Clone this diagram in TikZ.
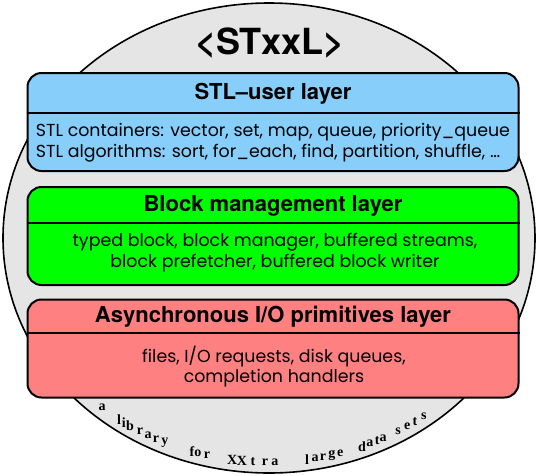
\documentclass[tikz,border=0pt]{standalone}
\usepackage{fontspec}
\setmainfont{TeX Gyre Heros}
\newfontfamily\bodyfont{Poppins}
\newfontfamily\arcfont{Liberation Serif}
\usepackage{tikz}

\definecolor{userblue}{RGB}{135,206,250}
\definecolor{blockgreen}{RGB}{0,255,0}
\definecolor{iored}{RGB}{255,128,128}

\begin{document}
\begin{tikzpicture}[x=1pt, y=-1pt,
    layer/.style={draw=black, line width=2pt, rounded corners=14pt, minimum width=491pt, minimum height=98pt, inner sep=0pt},
    divider/.style={line width=2pt},
    head/.style={font=\fontsize{22}{26}\selectfont\bfseries},
    body/.style={font=\bodyfont\fontsize{17.4}{20.5}\selectfont},
    letter/.style={font=\arcfont\bfseries\fontsize{14}{14}\selectfont, inner sep=0pt}]
\useasboundingbox (0,0) rectangle (539,475);
\draw[fill=black!10, line width=1.6pt] (269,238) ellipse (266 and 235);
\node[font=\fontsize{36}{40}\selectfont\bfseries] at (270,43) (title) {<STxxL>};

% STL-user layer
\node[layer, fill=userblue] at (273,122) (user) {};
\draw[divider] ([yshift=-41pt]user.north west) -- ([yshift=-41pt]user.north east);
\node[head] at (273,94) (userhead) {STL\textendash user layer};
\node[body, align=left] at (273,142.5) (userbody) {STL containers: vector, set, map, queue, priority\_queue\\STL algorithms: sort, for\_each, find, partition, shuffle, \dots};

% block management layer
\node[layer, fill=blockgreen] at (273,236) (block) {};
\draw[divider] ([yshift=-37pt]block.north west) -- ([yshift=-37pt]block.north east);
\node[head] at (273,206) (blockhead) {Block management layer};
\node[body, align=center] at (275,252.5) (blockbody) {typed block, block manager, buffered streams,\\block prefetcher, buffered block writer};

% asynchronous I/O layer
\node[layer, fill=iored] at (273,348.5) (io) {};
\draw[divider] ([yshift=-34pt]io.north west) -- ([yshift=-34pt]io.north east);
\node[head] at (273,317) (iohead) {Asynchronous I/O primitives layer};
\node[body, align=center] at (274,366.5) (iobody) {files, I/O requests, disk queues,\\completion handlers};

% text round the bottom of the disc
\foreach \ch/\ang [count=\i] in {a/130.9, l/126.0, i/124.7, b/123.0, r/120.4, a/118.3, r/116.3, y/114.1,
    f/107.6, o/106.2, r/104.1, X/98.3, X/96.1, t/93.6, r/90.9, a/88.7,
    l/81.4, a/79.6, r/77.8, g/75.7, e/73.8, d/68.6, a/66.7, t/64.9, a/63.4,
    s/59.6, e/57.2, t/55.1, s/52.6}
  \node[letter] at ([shift={(269,238)}] \ang:255 and 224) (ch\i) {\ch};
\end{tikzpicture}
\end{document}
